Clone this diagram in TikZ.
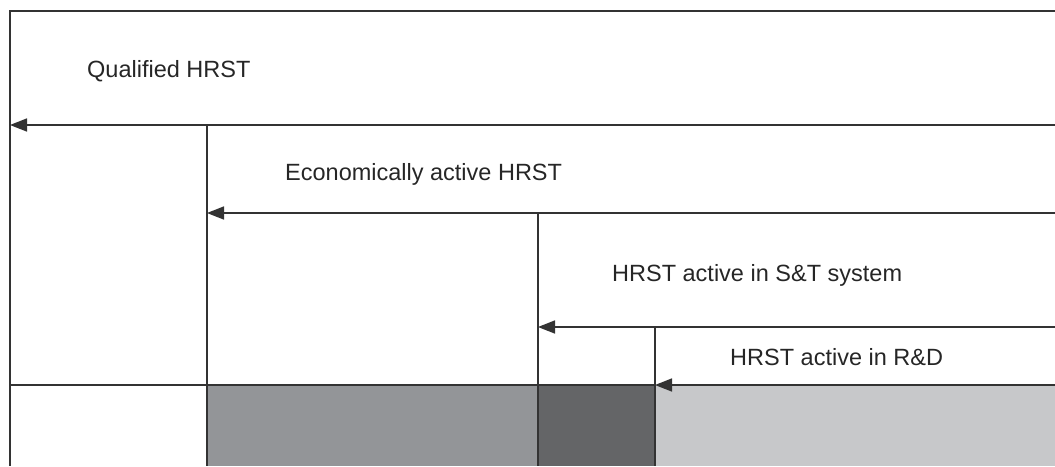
\documentclass[tikz,border=0pt]{standalone}
\usepackage{fontspec}
\setmainfont{Liberation Sans}
\usetikzlibrary{arrows.meta}
\definecolor{midgrey}{HTML}{939598}
\definecolor{darkgrey}{HTML}{646567}
\definecolor{lightgrey}{HTML}{C7C8CA}
\definecolor{linegrey}{HTML}{333333}
\tikzset{
  frame/.style={line width=1.7pt, draw=linegrey},
  level/.style={frame, {Triangle[length=17pt,width=13pt]}-},
  lbl/.style={anchor=base west, inner sep=0pt, text=black!85,
    font=\fontsize{23.5}{28}\selectfont},
}

\begin{document}
\begin{tikzpicture}[x=1pt,y=-1pt]
  \useasboundingbox (0,0) rectangle (1055,466);
  % shaded bars along the bottom
  \fill[midgrey] (207,385) rectangle (538,466);
  \fill[darkgrey] (538,385) rectangle (655,466);
  \fill[lightgrey] (655,385) rectangle (1055,466);

  \coordinate (top) at (10,11);
  \coordinate (topr) at (1055,11);
  \coordinate (bot) at (10,385);
  \draw[frame] (topr) -- (top) -- (10,466);

  \foreach \name/\x/\y in {q/10/125, e/207/213, s/538/327, r/655/385}
  {
    \coordinate (\name-l) at (\x,\y);
    \coordinate (\name-r) at (1055,\y);
  }
  \foreach \name/\prev in {e/q, s/e, r/s}
  {
    \draw[frame] (\name-l |- \prev-l) -- (\name-l |- 0,466);
  }
  \draw[frame] (bot) -- (r-l);
  \foreach \name in {q, e, s, r}
  {
    \draw[level] (\name-l) -- (\name-r);
  }

  \node[lbl] (qual) at (87,77) {Qualified HRST};
  \node[lbl] (econ) at (285,180) {Economically active HRST};
  \node[lbl] (st) at (612,281) {HRST active in S\&T system};
  \node[lbl] (rd) at (730,365) {HRST active in R\&D};
\end{tikzpicture}
\end{document}
